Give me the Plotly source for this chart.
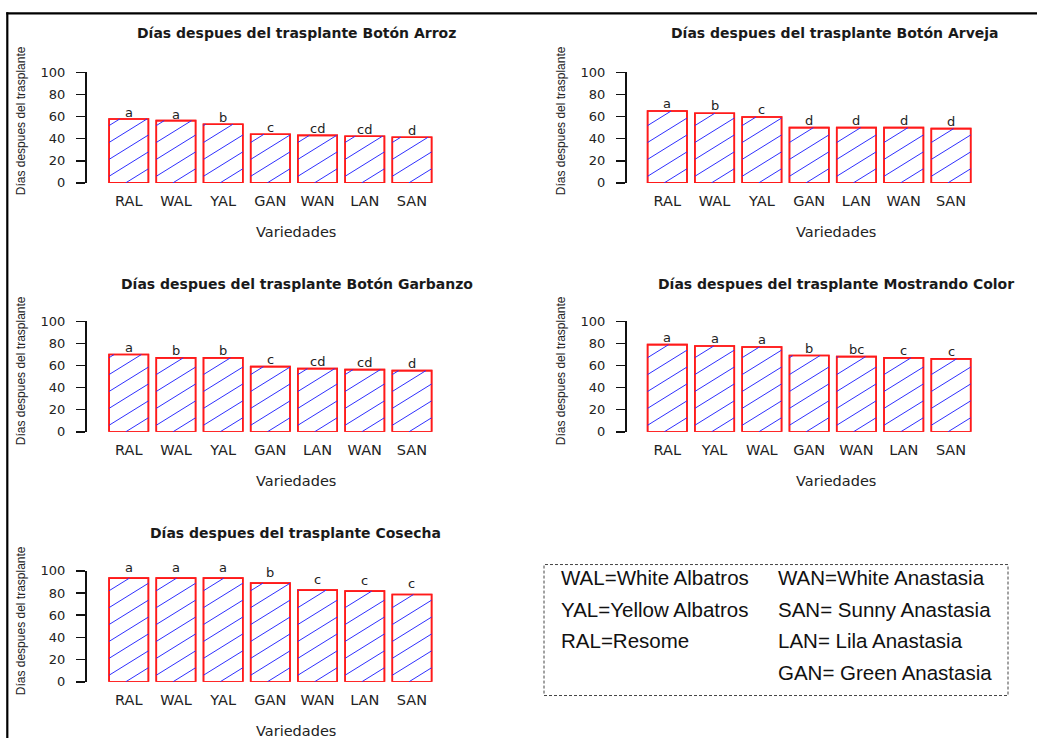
import plotly.graph_objects as go

W, H = 1037, 746

# ---------------- data ----------------
arroz_cats = ["RAL", "WAL", "YAL", "GAN", "WAN", "LAN", "SAN"]
arroz_vals = [57.8, 56.3, 53.0, 44.0, 43.0, 42.2, 41.3]
arroz_letters = ["a", "a", "b", "c", "cd", "cd", "d"]

arveja_cats = ["RAL", "WAL", "YAL", "GAN", "LAN", "WAN", "SAN"]
arveja_vals = [65.0, 63.0, 59.6, 50.0, 50.0, 50.0, 49.1]
arveja_letters = ["a", "b", "c", "d", "d", "d", "d"]

garbanzo_cats = ["RAL", "WAL", "YAL", "GAN", "LAN", "WAN", "SAN"]
garbanzo_vals = [69.9, 66.9, 66.9, 59.0, 57.2, 56.3, 55.4]
garbanzo_letters = ["a", "b", "b", "c", "cd", "cd", "d"]

color_cats = ["RAL", "YAL", "WAL", "GAN", "WAN", "LAN", "SAN"]
color_vals = [78.9, 77.7, 76.8, 69.0, 68.0, 66.9, 66.0]
color_letters = ["a", "a", "a", "b", "bc", "c", "c"]

cosecha_cats = ["RAL", "WAL", "YAL", "GAN", "WAN", "LAN", "SAN"]
cosecha_vals = [93.4, 93.4, 93.4, 88.9, 82.6, 81.7, 78.7]
cosecha_letters = ["a", "a", "a", "b", "c", "c", "c"]

titles = [
    "Días despues del trasplante Botón Arroz",
    "Días despues del trasplante Botón Arveja",
    "Días despues del trasplante Botón Garbanzo",
    "Días despues del trasplante Mostrando Color",
    "Días despues del trasplante Cosecha",
]
y_title = "Días despues del trasplante"
x_title = "Variedades"
y_ticks = [0, 20, 40, 60, 80, 100]

legend_col1 = ["WAL=White Albatros", "YAL=Yellow Albatros", "RAL=Resome"]
legend_col2 = ["WAN=White Anastasia", "SAN= Sunny Anastasia",
               "LAN= Lila Anastasia", "GAN= Green Anastasia"]

panels = [
    (arroz_cats, arroz_vals, arroz_letters),
    (arveja_cats, arveja_vals, arveja_letters),
    (garbanzo_cats, garbanzo_vals, garbanzo_letters),
    (color_cats, color_vals, color_letters),
    (cosecha_cats, cosecha_vals, cosecha_letters),
]

# ---------------- layout geometry (target pixels) ----------------
geo = [
    dict(xd=(95.7, 445.0), yd=(182.3, 71.7), yl=85, tc=(296, 32), xt=(296, 231), yt=(20.7, 120), ls=-1),
    dict(xd=(634.2, 984.1), yd=(182.3, 71.7), yl=625, tc=(835, 32), xt=(835.5, 231), yt=(560.7, 120), ls=0),
    dict(xd=(95.7, 445.0), yd=(431.3, 320.7), yl=85, tc=(296.7, 283), xt=(296, 480), yt=(20.7, 370), ls=0),
    dict(xd=(634.2, 984.1), yd=(431.3, 320.7), yl=625, tc=(835.7, 283), xt=(835.5, 480), yt=(560.7, 370), ls=0),
    dict(xd=(95.7, 445.0), yd=(681.3, 570.3), yl=85, tc=(295.7, 532), xt=(296, 730), yt=(20.7, 620), ls=3),
]
XR = (-0.7, 6.7)
YR = (0, 100)
BAR_W = 0.833
HATCH_SLOPE = 0.62   # pixel rise per pixel run
HATCH_GAP = 16.9     # vertical pixel spacing between hatch lines
HATCH_PHASE = 6.6    # first line crosses the bar's left edge this many px above its base

# vertical calibration of the capture (observed: screen_y = 0.98 * y + 6.4)
Y_SCALE, Y_OFF = 0.98, 6.4


def px(x):
    return x / W


def py(y):
    return 1 - ((y - Y_OFF) / Y_SCALE) / H


def hatch_lines(xs, vals, g):
    """Diagonal hatch segments (data coords) clipped to each bar rectangle."""
    ppx = (g["xd"][1] - g["xd"][0]) / (XR[1] - XR[0])
    ppy = (g["yd"][0] - g["yd"][1]) / (YR[1] - YR[0])
    slope = HATCH_SLOPE * ppx / ppy
    gap = HATCH_GAP / ppy
    phase = HATCH_PHASE / ppy
    hx, hy = [], []
    for xc, v in zip(xs, vals):
        xl, xr = xc - BAR_W / 2, xc + BAR_W / 2
        c = phase - gap * int((phase + slope * (xr - xl)) / gap + 1)
        while c < v:
            x0 = max(xl, xl + (0 - c) / slope)
            x1 = min(xr, xl + (v - c) / slope)
            if x1 > x0:
                hx += [x0, x1, None]
                hy += [c + slope * (x0 - xl), c + slope * (x1 - xl), None]
            c += gap
    return hx, hy


fig = go.Figure()
annotations = []
layout_axes = {}

for i, ((cats, vals, letters), g) in enumerate(zip(panels, geo), start=1):
    xa, ya = f"x{i}", f"y{i}"
    xs = list(range(len(cats)))
    fig.add_trace(go.Bar(
        x=xs, y=vals, xaxis=xa, yaxis=ya, width=BAR_W,
        marker=dict(color="white", line=dict(color="#ff1a1a", width=1.6)),
        showlegend=False, hoverinfo="skip",
    ))
    hx, hy = hatch_lines(xs, vals, g)
    fig.add_trace(go.Scatter(
        x=hx, y=hy, xaxis=xa, yaxis=ya, mode="lines",
        line=dict(color="#2f2fff", width=1), showlegend=False, hoverinfo="skip",
    ))
    fig.add_trace(go.Bar(
        x=xs, y=vals, xaxis=xa, yaxis=ya, width=BAR_W,
        marker=dict(color="rgba(0,0,0,0)", line=dict(color="#ff1a1a", width=1.6)),
        showlegend=False, hoverinfo="skip",
    ))
    xkey = "xaxis" if i == 1 else f"xaxis{i}"
    ykey = "yaxis" if i == 1 else f"yaxis{i}"
    layout_axes[xkey] = dict(
        domain=[px(g["xd"][0]), px(g["xd"][1])], anchor=ya,
        range=list(XR), tickvals=xs, ticktext=cats, showgrid=False, zeroline=False,
        showline=False, ticks="", ticklabelstandoff=8,
        tickfont=dict(family="DejaVu Sans", size=14.5, color="#222"),
        fixedrange=True,
    )
    layout_axes[ykey] = dict(
        domain=[py(g["yd"][0]), py(g["yd"][1])], anchor="free",
        position=px(g["yl"]), range=list(YR), tickvals=y_ticks,
        showgrid=False, zeroline=False, showline=True, linecolor="#111",
        linewidth=1.5, ticks="outside", ticklen=9, tickwidth=1.5, tickcolor="#111",
        ticklabelstandoff=8,
        tickfont=dict(family="DejaVu Sans", size=13, color="#222"),
        fixedrange=True,
    )
    for xc, v, t in zip(xs, vals, letters):
        annotations.append(dict(
            x=xc, y=v, xref=xa, yref=ya, text=t, showarrow=False,
            yanchor="bottom", yshift=g["ls"] - 2,
            font=dict(family="DejaVu Sans", size=13, color="#222"),
        ))
    annotations.append(dict(
        x=px(g["tc"][0]), y=py(g["tc"][1]), xref="paper", yref="paper",
        text=f"<b>{titles[i-1]}</b>", showarrow=False, xanchor="center", yanchor="middle",
        font=dict(family="DejaVu Sans", size=14, color="#1a1a1a"),
    ))
    annotations.append(dict(
        x=px(g["xt"][0]), y=py(g["xt"][1]), xref="paper", yref="paper",
        text=x_title, showarrow=False, xanchor="center", yanchor="middle",
        font=dict(family="DejaVu Sans", size=14.5, color="#222"),
    ))
    annotations.append(dict(
        x=px(g["yt"][0]), y=py(g["yt"][1]), xref="paper", yref="paper",
        text=y_title, showarrow=False, xanchor="center", yanchor="middle", textangle=-90,
        font=dict(family="Liberation Sans", size=12, color="#222"),
    ))

row_y = [576.7, 609.3, 640.0, 671.7]
for j, t in enumerate(legend_col1):
    annotations.append(dict(
        x=px(559), y=py(row_y[j]), xref="paper", yref="paper", text=t, showarrow=False,
        xanchor="left", yanchor="middle",
        font=dict(family="Liberation Sans, Arial", size=20.5, color="#111"),
    ))
for j, t in enumerate(legend_col2):
    annotations.append(dict(
        x=px(776), y=py(row_y[j]), xref="paper", yref="paper", text=t, showarrow=False,
        xanchor="left", yanchor="middle",
        font=dict(family="Liberation Sans, Arial", size=20.5, color="#111"),
    ))

shapes = [
    dict(type="rect", xref="paper", yref="paper", x0=px(544), x1=px(1008),
         y0=py(695), y1=py(564), line=dict(color="#444", width=1, dash="3px,2px")),
    dict(type="line", xref="paper", yref="paper", x0=px(6.3), x1=1, y0=py(12.7), y1=py(12.7),
         line=dict(color="black", width=2.2)),
    dict(type="line", xref="paper", yref="paper", x0=px(7.3), x1=px(7.3), y0=py(11.6), y1=0,
         line=dict(color="black", width=2.2)),
]

fig.update_layout(
    width=W, height=H, margin=dict(l=0, r=0, t=0, b=0),
    paper_bgcolor="white", plot_bgcolor="white",
    showlegend=False, barmode="overlay",
    annotations=annotations, shapes=shapes,
    **layout_axes,
)

fig.write_html(
    "out.html",
    config={"displayModeBar": False, "staticPlot": True},
    post_script=(
        "document.documentElement.style.margin='0';"
        "document.documentElement.style.overflow='hidden';"
        "document.body.style.margin='0';document.body.style.padding='0';"
        "document.body.style.overflow='hidden';"
        "var gd=document.getElementById('{plot_id}');"
        "gd.style.position='fixed';gd.style.top='0px';gd.style.left='0px';"
    ),
)
